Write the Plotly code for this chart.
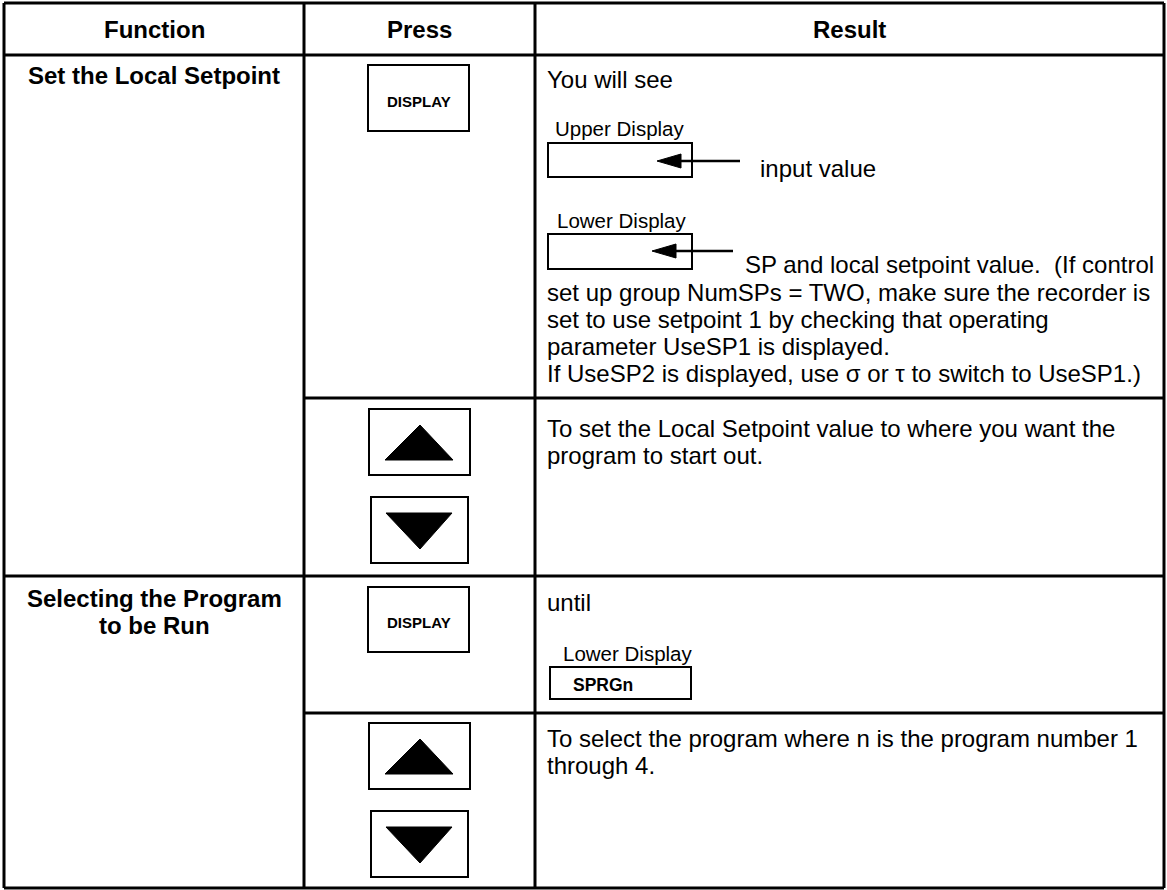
import plotly.graph_objects as go

# ---------------- content ----------------
header_labels = ["Function", "Press", "Result"]
function_labels = [["Set the Local Setpoint"], ["Selecting the Program", "to be Run"]]
press_keys = ["DISPLAY", "▲▼", "DISPLAY", "▲▼"]
result_row1_lines = ["You will see"]
upper_label = "Upper Display"
lower_label = "Lower Display"
upper_note = "input value"
lower_note_lines = [
    "SP and local setpoint value.  (If control",
    "set up group NumSPs = TWO, make sure the recorder is",
    "set to use setpoint 1 by checking that operating",
    "parameter UseSP1 is displayed.",
    "If UseSP2 is displayed, use σ or τ to switch to UseSP1.)",
]
result_row2_lines = ["To set the Local Setpoint value to where you want the",
                     "program to start out."]
result_row3_lines = ["until"]
sprg_text = "SPRGn"
result_row4_lines = ["To select the program where n is the program number 1",
                     "through 4."]

# ---------------- layout geometry ----------------
W, H = 1167, 890
FONT = "Arial, 'Liberation Sans', sans-serif"
col_x = [4, 304, 535, 1164]
row_y = [3, 55, 398, 576, 713, 888]
TXT = 24
LBL = 20.5

shapes = []
ann = []

def line(x0, y0, x1, y1, w=3):
    shapes.append(dict(type="line", x0=x0, y0=y0, x1=x1, y1=y1,
                       line=dict(color="black", width=w), layer="above"))

def rect(x0, y0, x1, y1, w=2):
    shapes.append(dict(type="rect", x0=x0, y0=y0, x1=x1, y1=y1,
                       line=dict(color="black", width=w), fillcolor="rgba(0,0,0,0)"))

def tri(pts):
    p = "M " + " L ".join(f"{x},{y}" for x, y in pts) + " Z"
    shapes.append(dict(type="path", path=p, fillcolor="black",
                       line=dict(color="black", width=1)))

def text(x, y, s, size=TXT, bold=False, anchor="left"):
    if bold:
        s = f"<b>{s}</b>"
    ann.append(dict(x=x, y=y, text=s, showarrow=False, xanchor=anchor,
                    yanchor="middle", font=dict(family=FONT, size=size, color="black")))

# table grid
line(col_x[0], row_y[0], col_x[-1], row_y[0])
line(col_x[0], row_y[-1], col_x[-1], row_y[-1])
line(col_x[0], row_y[0], col_x[0], row_y[-1])
line(col_x[-1], row_y[0], col_x[-1], row_y[-1])
line(col_x[1], row_y[0], col_x[1], row_y[-1])
line(col_x[2], row_y[0], col_x[2], row_y[-1])
line(col_x[0], row_y[1], col_x[-1], row_y[1])
line(col_x[0], row_y[3], col_x[-1], row_y[3])
line(col_x[1], row_y[2], col_x[-1], row_y[2])
line(col_x[1], row_y[4], col_x[-1], row_y[4])

# headers
for i, h in enumerate(header_labels):
    text((col_x[i] + col_x[i + 1]) / 2, 29, h, size=TXT, bold=True, anchor="center")

# function column
fcx = (col_x[0] + col_x[1]) / 2
text(fcx, 75, function_labels[0][0], bold=True, anchor="center")
text(fcx, 598, function_labels[1][0], bold=True, anchor="center")
text(fcx, 625, function_labels[1][1], bold=True, anchor="center")

# press column
pcx = 419
def display_key(y0, y1):
    rect(368, y0, 469, y1)
    text(pcx, (y0 + y1) / 2 + 3, press_keys[0], size=15, bold=True, anchor="center")

def updown(top):
    # up key
    rect(369, top, 470, top + 66)
    tri([(420, top + 16), (385, top + 51), (453, top + 51)])
    # down key
    d = top + 88
    rect(371, d, 468, d + 66)
    tri([(386, d + 16), (452, d + 16), (420, d + 52)])

display_key(65, 131)
updown(409)
display_key(587, 652)
updown(723)

# result column
rx = 545
text(rx, 79, result_row1_lines[0])
text(553, 128, upper_label, size=LBL)
rect(548, 143, 692, 177)
line(670, 161, 740, 161, w=2.5)
tri([(657, 161), (681, 154), (681, 168)])
text(758, 168, upper_note)

text(555, 220, lower_label, size=LBL)
rect(548, 234, 692, 269)
line(665, 251, 733, 251, w=2.5)
tri([(652, 251), (676, 244), (676, 258)])
text(743, 264, lower_note_lines[0])
for k, s in enumerate(lower_note_lines[1:]):
    text(rx, 292 + 27.3 * k, s)

for k, s in enumerate(result_row2_lines):
    text(rx, 428 + 27 * k, s)

text(rx, 602, result_row3_lines[0])
text(561, 653, lower_label, size=LBL)
rect(550, 667, 691, 699)
text(571, 685, sprg_text, size=17.5, bold=True)

for k, s in enumerate(result_row4_lines):
    text(rx, 738 + 27 * k, s)

fig = go.Figure()
fig.update_layout(
    width=W, height=H, margin=dict(l=0, r=0, t=0, b=0),
    paper_bgcolor="white", plot_bgcolor="white",
    xaxis=dict(range=[0, W], visible=False, fixedrange=True),
    yaxis=dict(range=[H, 0], visible=False, fixedrange=True),
    shapes=shapes, annotations=ann, showlegend=False,
)
fig.write_html("out.html", post_script="document.body.style.margin='0';",
               config={"displayModeBar": False})
